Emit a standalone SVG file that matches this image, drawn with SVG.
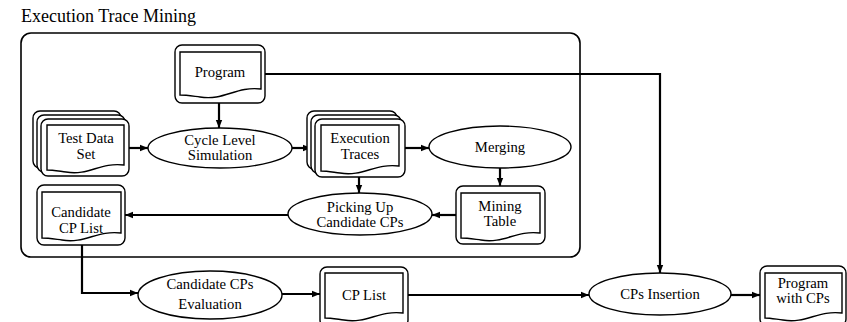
<svg xmlns="http://www.w3.org/2000/svg" width="847" height="322" viewBox="0 0 847 322">
<defs>
<style>
.t{font-family:"Liberation Serif","Times New Roman",serif;font-size:14.7px;fill:#000;text-anchor:middle}
.title{font-family:"Liberation Serif","Times New Roman",serif;font-size:18px;fill:#000}
.box{fill:#fff;stroke:#000;stroke-width:1.4}
.doc{fill:#fff;stroke:#000;stroke-width:1.4}
.ell{fill:#fff;stroke:#000;stroke-width:1.4}
.frame{fill:none;stroke:#000;stroke-width:1.6}
.c{fill:none;stroke:#000;stroke-width:2.2}
</style>
<marker id="ah" markerUnits="userSpaceOnUse" markerWidth="9" markerHeight="8" refX="8" refY="4" orient="auto">
<path d="M0,0.8 L8,4 L0,7.2 Z" fill="#000"/>
</marker>
</defs>

<text class="title" x="21" y="22">Execution Trace Mining</text>
<rect class="frame" x="21" y="33" width="559" height="224" rx="10"/>

<g id="connectors">
<path class="c" d="M219,103 V128" marker-end="url(#ah)"/>
<path class="c" d="M265,74 H660 V273" marker-end="url(#ah)"/>
<path class="c" d="M129,148 H148" marker-end="url(#ah)"/>
<path class="c" d="M292,148 H311" marker-end="url(#ah)"/>
<path class="c" d="M405,148 H429" marker-end="url(#ah)"/>
<path class="c" d="M500,168 V186" marker-end="url(#ah)"/>
<path class="c" d="M359,177 V193" marker-end="url(#ah)"/>
<path class="c" d="M456,215 H432" marker-end="url(#ah)"/>
<path class="c" d="M288,215 H125" marker-end="url(#ah)"/>
<path class="c" d="M82,245 V293 H138" marker-end="url(#ah)"/>
<path class="c" d="M282,294 H320" marker-end="url(#ah)"/>
<path class="c" d="M408,295 H589" marker-end="url(#ah)"/>
<path class="c" d="M731,295 H760" marker-end="url(#ah)"/>
</g>

<g id="program">
<rect class="box" x="175" y="45" width="90" height="58" rx="7"/>
<path class="doc" d="M180,52 H261 V89 C236,86 224,101 200,97 C192,96 186,95 180,95 Z"/>
<text class="t" x="220" y="77">Program</text>
</g>

<g id="test-data-set">
<rect class="box" x="33" y="111" width="88" height="57" rx="7"/>
<rect class="box" x="37" y="115" width="88" height="57" rx="7"/>
<rect class="box" x="41" y="119" width="88" height="57" rx="7"/>
<path class="doc" d="M47,125 H124 V165 C100,162 89,176 66,172 C58,171 52,170 47,170 Z"/>
<text class="t" x="86" y="143">Test Data</text>
<text class="t" x="86" y="159">Set</text>
</g>

<g id="cycle-level-simulation">
<ellipse class="ell" cx="220" cy="148" rx="72" ry="20"/>
<text class="t" x="220" y="145">Cycle Level</text>
<text class="t" x="220" y="160">Simulation</text>
</g>

<g id="execution-traces">
<rect class="box" x="307" y="111" width="90" height="58" rx="7"/>
<rect class="box" x="311" y="115" width="90" height="58" rx="7"/>
<rect class="box" x="315" y="119" width="90" height="58" rx="7"/>
<path class="doc" d="M321,125 H399 V166 C375,163 363,177 340,173 C332,172 327,171 321,171 Z"/>
<text class="t" x="360" y="143">Execution</text>
<text class="t" x="360" y="159">Traces</text>
</g>

<g id="merging">
<ellipse class="ell" cx="500" cy="147" rx="71" ry="21"/>
<text class="t" x="500" y="152">Merging</text>
</g>

<g id="mining-table">
<rect class="box" x="456" y="186" width="89" height="58" rx="7"/>
<path class="doc" d="M461,193 H540 V233 C516,230 504,244 481,240 C473,239 467,238 461,238 Z"/>
<text class="t" x="500" y="211">Mining</text>
<text class="t" x="500" y="226">Table</text>
</g>

<g id="picking-up-candidate-cps">
<ellipse class="ell" cx="360" cy="214" rx="72" ry="21"/>
<text class="t" x="360" y="212">Picking Up</text>
<text class="t" x="360" y="227">Candidate CPs</text>
</g>

<g id="candidate-cp-list">
<rect class="box" x="37" y="185" width="88" height="60" rx="7"/>
<path class="doc" d="M42,192 H121 V233 C97,230 85,244 62,240 C54,239 48,238 42,238 Z"/>
<text class="t" x="81" y="217">Candidate</text>
<text class="t" x="81" y="233">CP List</text>
</g>

<g id="candidate-cps-evaluation">
<ellipse class="ell" cx="210" cy="295" rx="72" ry="24"/>
<text class="t" x="210" y="289">Candidate CPs</text>
<text class="t" x="210" y="309">Evaluation</text>
</g>

<g id="cp-list">
<rect class="box" x="320" y="267" width="88" height="60" rx="7"/>
<path class="doc" d="M325,273 H403 V313 C379,310 367,324 344,320 C336,319 330,318 325,318 Z"/>
<text class="t" x="364" y="300">CP List</text>
</g>

<g id="cps-insertion">
<ellipse class="ell" cx="660" cy="294" rx="71" ry="21"/>
<text class="t" x="660" y="299">CPs Insertion</text>
</g>

<g id="program-with-cps">
<rect class="box" x="760" y="266" width="86" height="60" rx="7"/>
<path class="doc" d="M765,273 H842 V313 C818,310 806,324 783,320 C775,319 770,318 765,318 Z"/>
<text class="t" x="803" y="288">Program</text>
<text class="t" x="803" y="303">with CPs</text>
</g>
</svg>
